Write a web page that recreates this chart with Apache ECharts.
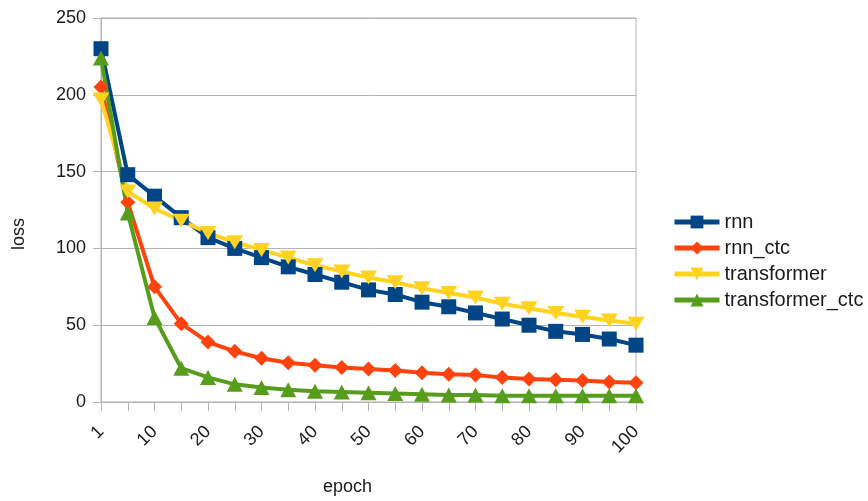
<!DOCTYPE html>
<html>
<head>
<meta charset="utf-8">
<script src="https://cdn.jsdelivr.net/npm/echarts@6/dist/echarts.min.js"></script>
<style>
html,body{margin:0;padding:0;background:#fff;}
#chart{width:868px;height:501px;}
</style>
</head>
<body>
<div id="chart"></div>
<script>
const categories = ['1','5','10','15','20','25','30','35','40','45','50','55','60','65','70','75','80','85','90','95','100'];
const rnn = [230, 148, 134, 120, 107, 100, 94, 88, 83, 78, 73, 70, 65, 62, 58, 54, 50, 46, 44, 41, 37];
const rnnCtc = [205, 130, 75, 51, 39, 33, 28.5, 25.5, 24, 22.5, 21.5, 20.5, 19, 18, 17.5, 16, 15, 14.5, 14, 13, 12.5];
const transformer = [197, 137, 126, 118, 110, 104, 99, 94, 89, 85, 81, 78, 74, 71, 68, 64, 61, 58, 55.5, 53, 51];
const transformerCtc = [224, 123, 55, 22, 16, 11.5, 9.5, 8, 7, 6.5, 6, 5.5, 5, 4.5, 4.5, 4, 4, 4, 4, 4, 4];
const seriesNames = ['rnn', 'rnn_ctc', 'transformer', 'transformer_ctc'];
const xTitle = 'epoch';
const yTitle = 'loss';

const FONT = 'Liberation Sans';
const TXT = '#1a1a1a';
const GRID = '#b3b3b3';

const chart = echarts.init(document.getElementById('chart'), null, {renderer: 'canvas'});

function mk(name, data, color, symbol, size, rotate) {
  return {
    name: name, type: 'line', data: data,
    symbol: symbol, symbolSize: size, symbolRotate: rotate || 0,
    showAllSymbol: true,
    lineStyle: {color: color, width: 4},
    itemStyle: {color: color},
    emphasis: {disabled: true}
  };
}

chart.setOption({
  animation: false,
  textStyle: {fontFamily: FONT},
  grid: {left: 101, right: 232, top: 18, bottom: 99, show: true, borderColor: GRID, borderWidth: 1, containLabel: false},
  legend: {
    orient: 'vertical', left: 672, top: 212, padding: 0,
    itemWidth: 45, itemHeight: 16, itemGap: 6,
    lineStyle: {width: 5},
    textStyle: {fontFamily: FONT, fontSize: 20, color: TXT},
    data: seriesNames
  },
  graphic: [
    {type: 'text', left: 10, top: 218, rotation: Math.PI / 2,
     style: {text: yTitle, fontFamily: FONT, fontSize: 18, fill: TXT}},
    {type: 'text', left: 323, top: 478,
     style: {text: xTitle, fontFamily: FONT, fontSize: 18, fill: TXT}}
  ],
  xAxis: {
    type: 'category', data: categories, boundaryGap: false,
    axisLine: {lineStyle: {color: GRID, width: 1}},
    axisTick: {show: true, length: 9, lineStyle: {color: GRID}, interval: 0},
    axisLabel: {interval: 1, rotate: 45, margin: 27, fontFamily: FONT, fontSize: 18, color: TXT},
    splitLine: {show: false}
  },
  yAxis: {
    type: 'value', min: 0, max: 250, interval: 50,
    axisLine: {show: true, lineStyle: {color: GRID, width: 1}},
    axisTick: {show: true, length: 8, lineStyle: {color: GRID}},
    axisLabel: {margin: 15, fontFamily: FONT, fontSize: 18, color: TXT},
    splitLine: {show: true, lineStyle: {color: GRID, width: 1}}
  },
  series: [
    mk(seriesNames[0], rnn, '#004586', 'rect', 15),
    mk(seriesNames[1], rnnCtc, '#ff420e', 'diamond', 15),
    mk(seriesNames[2], transformer, '#ffd320', 'triangle', [17, 14], 180),
    mk(seriesNames[3], transformerCtc, '#579d1c', 'triangle', [16, 15])
  ]
});
</script>
</body>
</html>
